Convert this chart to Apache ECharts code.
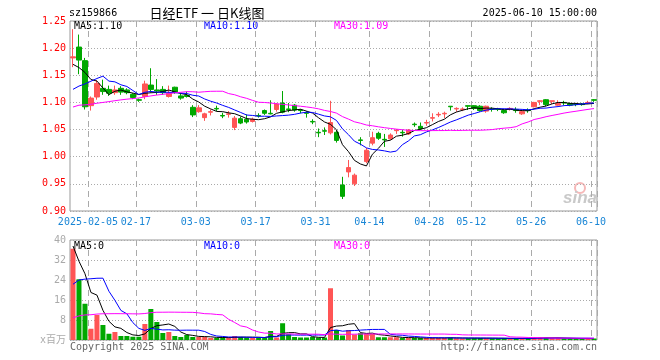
<!DOCTYPE html>
<html><head><meta charset="utf-8">
<script src="https://cdn.jsdelivr.net/npm/echarts@6/dist/echarts.min.js"></script>
<style>html,body{margin:0;padding:0;background:#fff}#c{width:660px;height:360px}</style>
</head><body><div id="c"></div><script>
const dates = ['2025-01-23','2025-01-24','2025-01-27',
'2025-02-05','2025-02-06','2025-02-07','2025-02-10','2025-02-11','2025-02-12','2025-02-13','2025-02-14',
'2025-02-17','2025-02-18','2025-02-19','2025-02-20','2025-02-21','2025-02-24','2025-02-25','2025-02-26','2025-02-27','2025-02-28',
'2025-03-03','2025-03-04','2025-03-05','2025-03-06','2025-03-07','2025-03-10','2025-03-11','2025-03-12','2025-03-13','2025-03-14',
'2025-03-17','2025-03-18','2025-03-19','2025-03-20','2025-03-21','2025-03-24','2025-03-25','2025-03-26','2025-03-27','2025-03-28',
'2025-03-31','2025-04-01','2025-04-02','2025-04-03','2025-04-07','2025-04-08','2025-04-09','2025-04-10','2025-04-11',
'2025-04-14','2025-04-15','2025-04-16','2025-04-17','2025-04-18','2025-04-21','2025-04-22','2025-04-23','2025-04-24','2025-04-25',
'2025-04-28','2025-04-29','2025-04-30','2025-05-06','2025-05-07','2025-05-08','2025-05-09',
'2025-05-12','2025-05-13','2025-05-14','2025-05-15','2025-05-16','2025-05-19','2025-05-20','2025-05-21','2025-05-22','2025-05-23',
'2025-05-26','2025-05-27','2025-05-28','2025-05-29','2025-05-30','2025-06-03','2025-06-04','2025-06-05','2025-06-06','2025-06-09','2025-06-10'];

const opens = [1.182,1.202,1.177,1.094,1.110,1.126,1.124,1.118,1.126,1.123,
1.115,1.105,1.111,1.132,1.123,1.124,1.111,1.128,1.112,1.113,
1.091,1.083,1.072,1.082,1.089,1.076,1.078,1.054,1.070,1.069,
1.065,1.076,1.085,1.080,1.087,1.099,1.088,1.095,1.086,1.081,
1.065,1.045,1.048,1.044,1.045,0.948,0.972,0.950,1.031,0.991,
1.025,1.043,1.032,1.033,1.048,1.045,1.042,1.060,1.056,1.062,
1.071,1.077,1.079,1.093,1.088,1.087,1.094,1.094,1.093,1.084,
1.088,1.088,1.085,1.088,1.087,1.079,1.086,1.092,1.102,1.105,
1.102,1.095,1.100,1.098,1.097,1.097,1.099,1.105];
const closes = [1.184,1.178,1.092,1.108,1.135,1.120,1.117,1.123,1.119,1.118,
1.109,1.104,1.134,1.124,1.121,1.118,1.117,1.118,1.108,1.111,
1.077,1.090,1.079,1.083,1.088,1.075,1.079,1.071,1.062,1.064,
1.069,1.075,1.080,1.079,1.097,1.082,1.087,1.086,1.085,1.080,
1.064,1.044,1.047,1.063,1.030,0.927,0.980,0.966,1.030,1.012,
1.035,1.034,1.031,1.040,1.049,1.044,1.049,1.059,1.052,1.063,
1.072,1.078,1.080,1.092,1.089,1.088,1.093,1.089,1.085,1.093,
1.087,1.087,1.081,1.089,1.085,1.083,1.085,1.100,1.103,1.096,
1.103,1.098,1.099,1.095,1.096,1.096,1.100,1.104];
const lows = [1.165,1.152,1.087,1.085,1.105,1.114,1.112,1.114,1.114,1.115,
1.106,1.101,1.106,1.118,1.114,1.114,1.109,1.116,1.105,1.109,
1.073,1.081,1.066,1.076,1.084,1.071,1.072,1.049,1.060,1.061,
1.063,1.072,1.077,1.078,1.083,1.080,1.082,1.083,1.080,1.072,
1.060,1.036,1.040,1.041,1.026,0.922,0.962,0.946,1.021,0.988,
1.021,1.031,1.018,1.031,1.042,1.037,1.040,1.055,1.049,1.057,
1.065,1.073,1.071,1.085,1.083,1.084,1.086,1.086,1.083,1.081,
1.083,1.084,1.079,1.085,1.081,1.077,1.081,1.091,1.095,1.093,
1.097,1.094,1.095,1.093,1.093,1.094,1.097,1.101];
const highs = [1.235,1.225,1.182,1.111,1.141,1.142,1.131,1.131,1.130,1.126,
1.117,1.107,1.140,1.163,1.143,1.130,1.131,1.129,1.117,1.120,
1.095,1.095,1.081,1.087,1.094,1.081,1.084,1.075,1.074,1.078,
1.072,1.080,1.087,1.104,1.099,1.121,1.099,1.097,1.088,1.084,
1.069,1.052,1.054,1.103,1.049,0.963,0.994,0.969,1.036,1.016,
1.046,1.046,1.042,1.043,1.051,1.050,1.051,1.063,1.063,1.068,
1.080,1.082,1.083,1.093,1.091,1.091,1.094,1.095,1.095,1.094,
1.091,1.090,1.087,1.091,1.091,1.086,1.089,1.101,1.104,1.106,
1.103,1.104,1.103,1.100,1.098,1.099,1.103,1.106];
// volume, millions
const volumes = [36.5,24.3,14.5,4.5,10.0,6.0,2.5,3.2,1.6,1.6,
1.3,1.3,6.4,12.4,7.2,2.8,3.2,1.6,1.2,2.0,
1.2,1.2,1.2,0.8,0.8,1.0,1.0,1.6,1.2,1.0,
0.8,0.9,1.0,3.6,1.0,6.7,2.3,1.2,1.0,1.0,
1.2,1.0,1.0,20.7,4.0,1.8,4.0,2.2,2.7,2.4,
2.4,1.1,1.1,1.1,1.1,0.8,0.8,0.8,0.8,0.8,
0.9,0.8,0.8,1.0,0.7,0.6,0.7,0.8,0.8,0.7,
0.6,0.6,0.7,0.6,0.6,0.7,0.6,1.1,1.0,0.9,
0.7,0.7,0.6,0.6,0.5,0.5,0.6,0.6];
// sessions before the visible window (oldest first), estimated from where the MA lines start
const priorCloses = [1.077,1.074,1.076,1.077,1.075,1.073,1.071,1.074,1.078,1.076,
1.073,1.070,1.072,1.075,1.079,1.077,1.074,1.076,1.078,1.080,
1.118,1.052,1.058,1.085,1.077,1.208,1.137,1.173,1.149];
const priorVolumes = [2.5,2.4,2.3,1.9,2.1,2.4,2.2,2.0,2.3,2.5,
2.1,1.8,2.0,2.2,2.6,2.3,1.9,2.1,2.4,2.0,
7.3,11.0,3.0,8.0,5.7,54.8,39.5,42.0,15.2];

const tickDates = ['2025-02-05','2025-02-17','2025-03-03','2025-03-17','2025-03-31','2025-04-14','2025-04-28','2025-05-12','2025-05-26','2025-06-10'];
const tickLabels = ['2025-02-05','02-17','03-03','03-17','03-31','04-14','04-28','05-12','05-26','06-10'];

const UP = '#ff5555', DOWN = '#00a800';
const MONO = 'DejaVu Sans Mono';

function movingAvg(values, prior, n) {
  const all = prior.concat(values), off = prior.length;
  return values.map((_, i) => {
    let s = 0;
    for (let k = off + i - n + 1; k <= off + i; k++) s += all[k];
    return +(s / n).toFixed(4);
  });
}
const ma5 = movingAvg(closes, priorCloses, 5);
const ma10 = movingAvg(closes, priorCloses, 10);
const ma30 = movingAvg(closes, priorCloses, 30);
const vma5 = movingAvg(volumes, priorVolumes, 5);
const vma10 = movingAvg(volumes, priorVolumes, 10);
const vma30 = movingAvg(volumes, priorVolumes, 30);

const kData = dates.map((d, i) => [opens[i], closes[i], lows[i], highs[i]]);
const volData = volumes.map((v, i) => ({ value: v, itemStyle: { color: closes[i] > opens[i] ? UP : DOWN } }));

const isTick = (idx, val) => tickDates.indexOf(val) >= 0;
const last = a => a[a.length - 1];

const chart = echarts.init(document.getElementById('c'), null, { renderer: 'canvas' });
const dashV = { show: true, interval: isTick, lineStyle: { color: '#aaa', type: [6, 4], width: 1 } };
const dotH = { show: true, lineStyle: { color: '#aaa', type: [1, 2], width: 1 } };

function txt(x, y, text, color, opts) {
  return Object.assign({ type: 'text', x: x, y: y, silent: true,
    style: Object.assign({ text: text, fill: color, font: '10px ' + MONO, textVerticalAlign: 'middle' }, opts || {}) });
}

chart.setOption({
  animation: false,
  backgroundColor: '#fff',
  grid: [
    { left: 70, top: 21, width: 527, height: 190, show: true, borderColor: '#999', borderWidth: 1, outerBoundsMode: 'none' },
    { left: 70, top: 240, width: 527, height: 100, show: true, borderColor: '#999', borderWidth: 1, outerBoundsMode: 'none' }
  ],
  xAxis: [
    { type: 'category', gridIndex: 0, data: dates, boundaryGap: true,
      axisLine: { show: false }, axisTick: { show: false },
      axisLabel: { interval: isTick, color: '#1a86d6', fontFamily: MONO, fontSize: 10, margin: 6,
        padding: [0, 6, 0, 0], formatter: v => tickLabels[tickDates.indexOf(v)] },
      splitLine: dashV },
    { type: 'category', gridIndex: 1, data: dates, boundaryGap: true,
      axisLine: { show: false }, axisTick: { show: false }, axisLabel: { show: false },
      splitLine: dashV }
  ],
  yAxis: [
    { type: 'value', gridIndex: 0, min: 0.90, max: 1.25, interval: 0.05, scale: true,
      axisLine: { show: false }, axisTick: { show: false },
      axisLabel: { color: '#ff0000', fontFamily: MONO, fontSize: 10, margin: 4, formatter: v => v.toFixed(2) },
      splitLine: dotH },
    { type: 'value', gridIndex: 1, min: 0, max: 40, interval: 8,
      axisLine: { show: false }, axisTick: { show: false },
      axisLabel: { color: '#aaa', fontFamily: MONO + ', Noto Sans CJK SC', fontSize: 10, margin: 4,
        formatter: v => v === 0 ? 'x百万' : String(v) },
      splitLine: dotH }
  ],
  series: [
    { type: 'candlestick', xAxisIndex: 0, yAxisIndex: 0, data: kData, barWidth: 5,
      itemStyle: { color: UP, color0: DOWN, borderColor: UP, borderColor0: DOWN, borderWidth: 1 } },
    { type: 'line', xAxisIndex: 0, yAxisIndex: 0, data: ma5, symbol: 'none', lineStyle: { color: '#000', width: 1 }, z: 3 },
    { type: 'line', xAxisIndex: 0, yAxisIndex: 0, data: ma10, symbol: 'none', lineStyle: { color: '#0000ff', width: 1 }, z: 3 },
    { type: 'line', xAxisIndex: 0, yAxisIndex: 0, data: ma30, symbol: 'none', lineStyle: { color: '#ff00ff', width: 1 }, z: 3 },
    { type: 'bar', xAxisIndex: 1, yAxisIndex: 1, data: volData, barWidth: 5 },
    { type: 'line', xAxisIndex: 1, yAxisIndex: 1, data: vma5, symbol: 'none', lineStyle: { color: '#000', width: 1 }, z: 3 },
    { type: 'line', xAxisIndex: 1, yAxisIndex: 1, data: vma10, symbol: 'none', lineStyle: { color: '#0000ff', width: 1 }, z: 3 },
    { type: 'line', xAxisIndex: 1, yAxisIndex: 1, data: vma30, symbol: 'none', lineStyle: { color: '#ff00ff', width: 1 }, z: 3 }
  ],
  graphic: [
    txt(69, 13, 'sz159866', '#000'),
    txt(207, 13, '日经ETF 一 日K线图', '#000', { font: '13px Noto Sans CJK SC', textAlign: 'center' }),
    txt(597, 13, last(dates) + ' 15:00:00', '#000', { textAlign: 'right' }),
    txt(74, 26, 'MA5:' + last(ma5).toFixed(2), '#000'),
    txt(204, 26, 'MA10:' + last(ma10).toFixed(2), '#0000ff'),
    txt(334, 26, 'MA30:' + last(ma30).toFixed(2), '#ff00ff'),
    txt(74, 246, 'MA5:' + Math.floor(last(vma5)), '#000'),
    txt(204, 246, 'MA10:' + Math.floor(last(vma10)), '#0000ff'),
    txt(334, 246, 'MA30:' + Math.floor(last(vma30)), '#ff00ff'),
    txt(70, 347, 'Copyright 2025 SINA.COM', '#666'),
    txt(597, 347, 'http://finance.sina.com.cn', '#666', { textAlign: 'right' }),
    { type: 'circle', shape: { cx: 580, cy: 188, r: 5 }, silent: true, style: { fill: 'none', stroke: '#f6b8b8', lineWidth: 2 } },
    txt(580, 198, 'sina', '#c9c9c9', { font: 'italic bold 17px Liberation Sans', textAlign: 'center' })
  ]
});
</script></body></html>
